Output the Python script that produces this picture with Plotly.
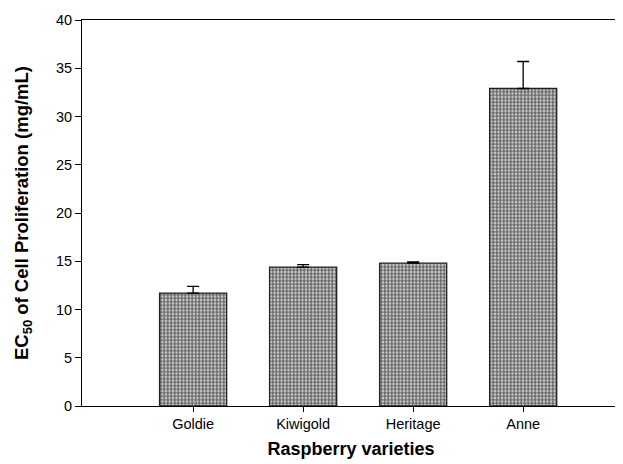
import plotly.graph_objects as go

varieties = ["Goldie", "Kiwigold", "Heritage", "Anne"]
ec50 = [11.7, 14.4, 14.8, 32.9]
err_plus = [0.7, 0.25, 0.12, 2.8]
y_ticks = [0, 5, 10, 15, 20, 25, 30, 35, 40]

fig = go.Figure()
fig.add_trace(go.Bar(
    x=list(range(len(varieties))),
    y=ec50,
    width=0.61,
    marker=dict(
        color="white",
        line=dict(color="#222222", width=1.3),
        pattern=dict(shape=".", fgcolor="#6a6a6a", bgcolor="#f2f2f2",
                     size=3.5, solidity=0.7, fillmode="replace"),
    ),
    error_y=dict(type="data", array=err_plus, arrayminus=[0] * 4,
                 symmetric=False, color="black", thickness=1.3, width=6),
    showlegend=False,
))

# page body has an 8px default margin, so the figure is sized to fit the window
fig.update_layout(
    width=615, height=456,
    margin=dict(l=74, r=3, t=12, b=58),
    plot_bgcolor="white", paper_bgcolor="white",
    font=dict(family="Liberation Sans, Arial, sans-serif", size=12, color="black"),
)
fig.update_xaxes(
    range=[-1.01, 3.88], automargin=False,
    tickvals=list(range(len(varieties))), ticktext=varieties,
    ticks="outside", ticklen=5, tickcolor="black",
    showline=True, linecolor="black", linewidth=1, mirror=True,
    showgrid=False, zeroline=False,
    title=dict(text="<b>Raspberry varieties</b>", font=dict(size=18), standoff=10),
    tickfont=dict(size=14.5),
)
fig.update_yaxes(
    range=[0, 40], tickvals=y_ticks, automargin=False,
    ticks="outside", ticklen=6, tickcolor="black",
    showline=True, linecolor="black", linewidth=1,
    showgrid=False, zeroline=False,
    title=dict(text="<b>EC<sub>50</sub> of Cell Proliferation (mg/mL)</b>", font=dict(size=18.5), standoff=22),
    tickfont=dict(size=14.5),
)

fig.write_html("out.html")
